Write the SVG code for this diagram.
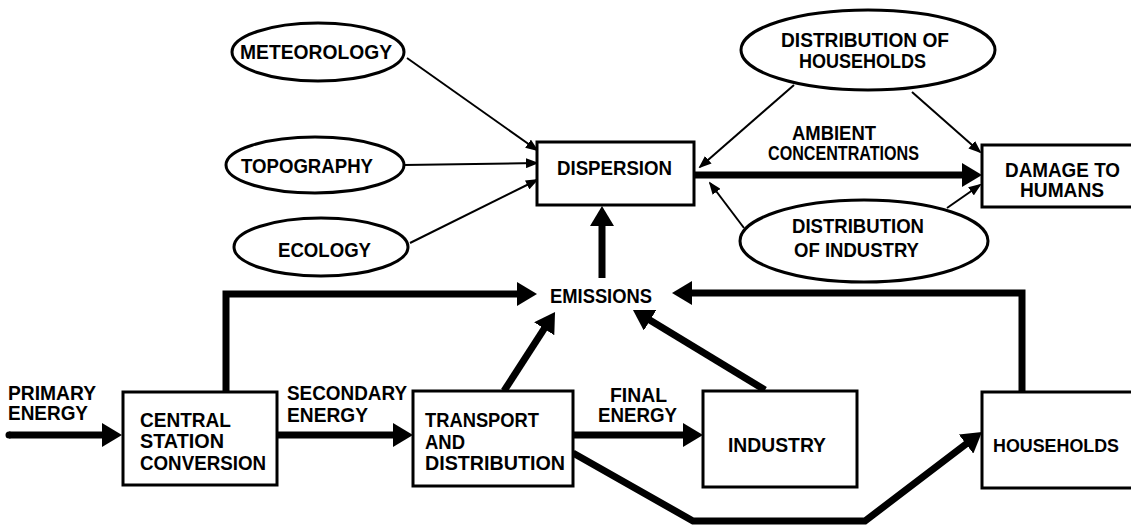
<svg xmlns="http://www.w3.org/2000/svg" width="1131" height="527" viewBox="0 0 1131 527">
<style>
.bg{fill:#fff}
.box{fill:#fff;stroke:#000;stroke-width:3}
.ell{fill:#fff;stroke:#000;stroke-width:3}
.t{font-family:"Liberation Sans Narrow","Liberation Sans",Arial,sans-serif;font-weight:bold;font-size:20px;fill:#000}
.thick{fill:none;stroke:#000;stroke-width:7;stroke-linejoin:miter}
.thin{fill:none;stroke:#000;stroke-width:2}
</style>
<defs>
<marker id="hb" markerUnits="userSpaceOnUse" markerWidth="20" markerHeight="24" refX="12" refY="12" orient="auto">
<path d="M0,0 L20,12 L0,24 z" fill="#000"/>
</marker>
<marker id="hs" markerUnits="userSpaceOnUse" markerWidth="13" markerHeight="10" refX="11" refY="5" orient="auto">
<path d="M0,0 L13,5 L0,10 z" fill="#000"/>
</marker>
</defs>
<rect class="bg" x="0" y="0" width="1131" height="527"/>
<g id="connectors">
<path class="thin" d="M407,58 L537,150" marker-end="url(#hs)"/>
<path class="thin" d="M404,165 L537,163" marker-end="url(#hs)"/>
<path class="thin" d="M410,243 L537,180" marker-end="url(#hs)"/>
<path class="thin" d="M794,85 L700,167" marker-end="url(#hs)"/>
<path class="thin" d="M912,92 L980,152" marker-end="url(#hs)"/>
<path class="thin" d="M744,228 L710,183" marker-end="url(#hs)"/>
<path class="thin" d="M947,208 L980,185" marker-end="url(#hs)"/>
<path class="thick" d="M9,435 L114,435" marker-end="url(#hb)"/>
<circle cx="9" cy="435" r="3.5" fill="#000"/>
<path class="thick" d="M278,435 L405,435" marker-end="url(#hb)"/>
<path class="thick" d="M573,435 L695,435" marker-end="url(#hb)"/>
<path class="thick" d="M226,391 V294 H529" marker-end="url(#hb)"/>
<path class="thick" d="M1022,392 V293 H680" marker-end="url(#hb)"/>
<path class="thick" d="M504,391 L550.7,318.7" marker-end="url(#hb)"/>
<path class="thick" d="M765,390 L639.8,314.1" marker-end="url(#hb)"/>
<path class="thick" d="M602,278 L602,214" marker-end="url(#hb)"/>
<path class="thick" d="M694,175 L974,175" marker-end="url(#hb)"/>
<path class="thick" d="M573,453 L693,521 L865,521 L975.6,436.8" marker-end="url(#hb)"/>
</g>
<g id="meteorology">
<ellipse class="ell" cx="318" cy="52" rx="86" ry="29"/>
<text class="t" x="240" y="59" textLength="152" lengthAdjust="spacingAndGlyphs">METEOROLOGY</text>
</g>
<g id="topography">
<ellipse class="ell" cx="315" cy="165" rx="89" ry="28"/>
<text class="t" x="241" y="173" textLength="132" lengthAdjust="spacingAndGlyphs">TOPOGRAPHY</text>
</g>
<g id="ecology">
<ellipse class="ell" cx="321" cy="247" rx="87" ry="29"/>
<text class="t" x="278" y="257" textLength="93" lengthAdjust="spacingAndGlyphs">ECOLOGY</text>
</g>
<g id="dispersion">
<rect class="box" x="537" y="142" width="157" height="63"/>
<text class="t" x="557" y="175" textLength="115" lengthAdjust="spacingAndGlyphs">DISPERSION</text>
</g>
<g id="dist-households">
<ellipse class="ell" cx="868" cy="50" rx="127" ry="40"/>
<text class="t" x="781" y="47" textLength="168" lengthAdjust="spacingAndGlyphs">DISTRIBUTION OF</text>
<text class="t" x="799" y="68" textLength="127" lengthAdjust="spacingAndGlyphs">HOUSEHOLDS</text>
</g>
<g id="ambient-label">
<text class="t" x="792" y="140" textLength="84" lengthAdjust="spacingAndGlyphs">AMBIENT</text>
<text class="t" x="768" y="160" textLength="151" lengthAdjust="spacingAndGlyphs">CONCENTRATIONS</text>
</g>
<g id="damage">
<path class="box" d="M1131,145 H982 V207 H1131"/>
<text class="t" x="1005" y="177" textLength="115" lengthAdjust="spacingAndGlyphs">DAMAGE TO</text>
<text class="t" x="1020" y="197" textLength="84" lengthAdjust="spacingAndGlyphs">HUMANS</text>
</g>
<g id="dist-industry">
<ellipse class="ell" cx="864" cy="241" rx="124" ry="41"/>
<text class="t" x="792" y="233" textLength="132" lengthAdjust="spacingAndGlyphs">DISTRIBUTION</text>
<text class="t" x="794" y="257" textLength="125" lengthAdjust="spacingAndGlyphs">OF INDUSTRY</text>
</g>
<g id="emissions">
<text class="t" x="550" y="303" textLength="102" lengthAdjust="spacingAndGlyphs">EMISSIONS</text>
</g>
<g id="primary-label">
<text class="t" x="8" y="400" textLength="88" lengthAdjust="spacingAndGlyphs">PRIMARY</text>
<text class="t" x="8" y="420" textLength="80" lengthAdjust="spacingAndGlyphs">ENERGY</text>
</g>
<g id="central">
<rect class="box" x="123" y="392" width="154" height="93"/>
<text class="t" x="140" y="427" textLength="91" lengthAdjust="spacingAndGlyphs">CENTRAL</text>
<text class="t" x="140" y="448" textLength="84" lengthAdjust="spacingAndGlyphs">STATION</text>
<text class="t" x="140" y="470" textLength="126" lengthAdjust="spacingAndGlyphs">CONVERSION</text>
</g>
<g id="secondary-label">
<text class="t" x="287" y="400" textLength="120" lengthAdjust="spacingAndGlyphs">SECONDARY</text>
<text class="t" x="287" y="422" textLength="81" lengthAdjust="spacingAndGlyphs">ENERGY</text>
</g>
<g id="transport">
<rect class="box" x="413" y="391" width="160" height="95"/>
<text class="t" x="425" y="427" textLength="114" lengthAdjust="spacingAndGlyphs">TRANSPORT</text>
<text class="t" x="425" y="449" textLength="40" lengthAdjust="spacingAndGlyphs">AND</text>
<text class="t" x="425" y="470" textLength="140" lengthAdjust="spacingAndGlyphs">DISTRIBUTION</text>
</g>
<g id="final-label">
<text class="t" x="610" y="402" textLength="57" lengthAdjust="spacingAndGlyphs">FINAL</text>
<text class="t" x="598" y="422" textLength="79" lengthAdjust="spacingAndGlyphs">ENERGY</text>
</g>
<g id="industry">
<rect class="box" x="703" y="391" width="154" height="96"/>
<text class="t" x="728" y="452" textLength="98" lengthAdjust="spacingAndGlyphs">INDUSTRY</text>
</g>
<g id="households">
<path class="box" d="M1131,392 H982 V488 H1131"/>
<text class="t" x="993" y="452" style="font-size:18.5px" textLength="126" lengthAdjust="spacingAndGlyphs">HOUSEHOLDS</text>
</g>
</svg>
